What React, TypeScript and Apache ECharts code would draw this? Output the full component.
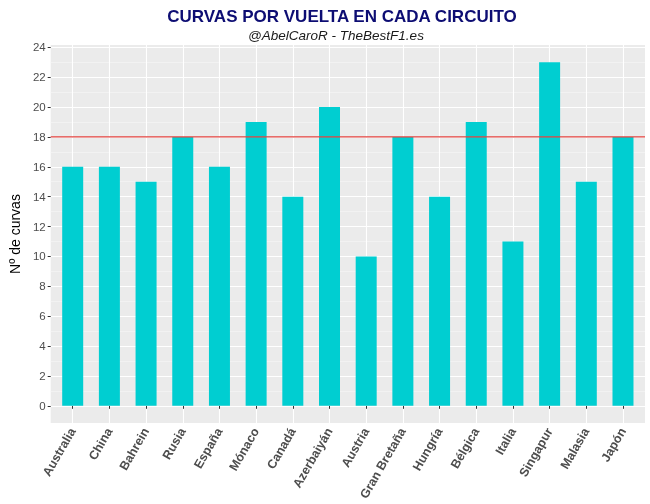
import React, { useEffect, useRef } from 'react';
import * as echarts from 'echarts';

const circuits = [
  'Australia', 'China', 'Bahrein', 'Rusia', 'España', 'Mónaco', 'Canadá', 'Azerbaiyán',
  'Austria', 'Gran Bretaña', 'Hungría', 'Bélgica', 'Italia', 'Singapur', 'Malasia', 'Japón',
];
const curves = [16, 16, 15, 18, 16, 19, 14, 20, 10, 18, 14, 19, 11, 23, 15, 18];
const referenceLine = 18;
const majorTicks = [0, 2, 4, 6, 8, 10, 12, 14, 16, 18, 20, 22, 24];
const minorTicks = [1, 3, 5, 7, 9, 11, 13, 15, 17, 19, 21, 23];
const positions = circuits.map((_, i) => i + 1);
const xRange = [0.4, 16.6];
const yRange = [-1.15, 24.15];

const App = () => {
  const chartRef = useRef(null);

  useEffect(() => {
    const chart = echarts.init(chartRef.current, null, { renderer: 'svg' });

    const option = {
      animation: false,
      textStyle: { fontFamily: 'Liberation Sans, Arial, sans-serif' },
      graphic: [
        {
          type: 'text',
          x: 342,
          y: 16.5,
          style: {
            text: 'CURVAS POR VUELTA EN CADA CIRCUITO',
            fill: '#0d0d73',
            font: 'bold 17px "Liberation Sans", Arial, sans-serif',
            textAlign: 'center',
            textVerticalAlign: 'middle',
          },
        },
        {
          type: 'text',
          x: 336,
          y: 35.5,
          style: {
            text: '@AbelCaroR - TheBestF1.es',
            fill: '#1a1a1a',
            font: 'italic 13.5px "Liberation Sans", Arial, sans-serif',
            textAlign: 'center',
            textVerticalAlign: 'middle',
          },
        },
      ],
      grid: {
        left: 38,
        right: 5,
        top: 45,
        bottom: 81,
        show: true,
        backgroundColor: '#EBEBEB',
        borderWidth: 0,
      },
      xAxis: {
        type: 'value',
        min: xRange[0],
        max: xRange[1],
        axisLine: { show: false },
        axisTick: {
          show: true,
          customValues: positions,
          length: 3,
          lineStyle: { color: '#333333' },
        },
        axisLabel: {
          customValues: positions,
          rotate: 60,
          margin: 6,
          fontSize: 12.5,
          fontWeight: 'bold',
          color: '#4D4D4D',
          formatter: (v: number) => circuits[Math.round(v) - 1] ?? '',
        },
        splitLine: { show: true, lineStyle: { color: '#ffffff', width: 1.1 } },
      },
      yAxis: [
        {
          type: 'value',
          min: yRange[0],
          max: yRange[1],
          name: 'Nº de curvas',
          nameLocation: 'middle',
          nameGap: 26,
          nameTextStyle: { fontSize: 14, color: '#000000' },
          axisLine: { show: false },
          axisTick: {
            show: true,
            customValues: majorTicks,
            length: 3,
            lineStyle: { color: '#333333' },
          },
          axisLabel: {
            customValues: majorTicks,
            margin: 5,
            fontSize: 11.5,
            color: '#4D4D4D',
          },
          splitLine: { show: true, lineStyle: { color: '#ffffff', width: 1.1 } },
        },
        {
          type: 'value',
          min: yRange[0],
          max: yRange[1],
          position: 'left',
          axisLine: { show: false },
          axisTick: { show: false, customValues: minorTicks },
          axisLabel: { show: false, customValues: minorTicks },
          splitLine: { show: true, lineStyle: { color: '#F5F5F5', width: 0.7 } },
        },
      ],
      series: [
        {
          type: 'bar',
          yAxisIndex: 0,
          barWidth: 21,
          data: curves.map((v, i) => [positions[i], v]),
          itemStyle: { color: '#00CED1' },
        },
        {
          type: 'line',
          yAxisIndex: 0,
          z: 5,
          symbol: 'none',
          silent: true,
          data: xRange.map((x) => [x, referenceLine]),
          lineStyle: { color: '#E3433F', width: 1.1, type: 'solid' },
          itemStyle: { color: '#E3433F' },
        },
      ],
    };

    chart.setOption(option);

    return () => {
      chart.dispose();
    };
  }, []);

  return (
    <div
      ref={chartRef}
      style={{ position: 'fixed', left: 0, top: 0, width: '650px', height: '504px' }}
    />
  );
};

export default App;
